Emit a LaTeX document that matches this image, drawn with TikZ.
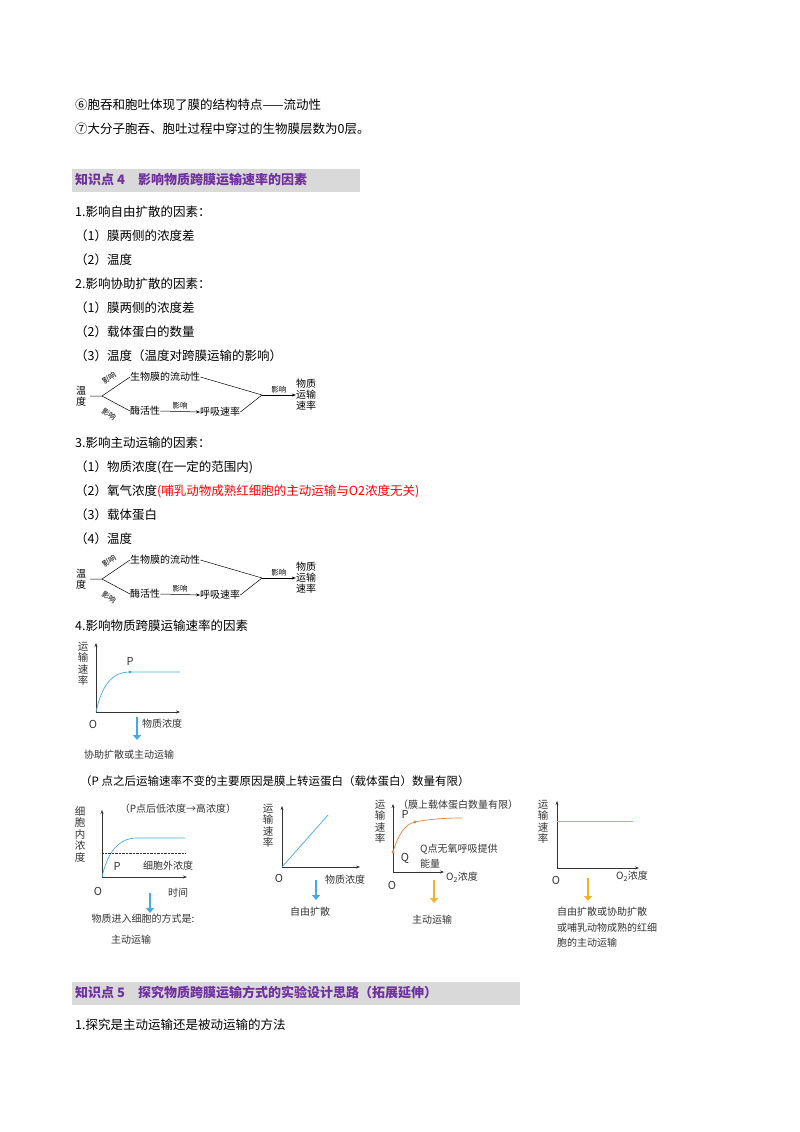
\documentclass[tikz,border=0pt]{standalone}
\usepackage{fontspec}
\setmainfont{Noto Sans CJK SC}
\usetikzlibrary{arrows.meta}
\definecolor{purp}{RGB}{112,48,160}
\definecolor{band}{RGB}{217,217,217}
\definecolor{cblue}{RGB}{70,170,225}
\definecolor{corange}{RGB}{235,130,60}
\definecolor{cyell}{RGB}{240,180,40}
\definecolor{lorange}{RGB}{225,160,110}
\tikzset{
 body/.style={anchor=west,font=\fontsize{12.5pt}{13pt}\selectfont,inner sep=0},
 sm/.style={font=\fontsize{10pt}{11pt}\selectfont,inner sep=0},
 tiny/.style={font=\fontsize{7.5pt}{8pt}\selectfont,inner sep=0},
 gl/.style={font=\fontsize{10pt}{11pt}\selectfont,inner sep=0,text=black!80},
 it/.style={gl,font=\fontsize{11pt}{11pt}\selectfont},
 head/.style={anchor=west,font=\fontsize{13pt}{14pt}\selectfont\bfseries,text=purp,inner sep=0},
 ax/.style={black!80,line width=0.5pt,-{Stealth[length=4pt,width=3pt]}},
 bigarr/.style={line width=2.2pt,-{Triangle[length=5pt,width=8pt]}},
 vtxt/.style={gl,align=center,font=\fontsize{10.5pt}{11.5pt}\selectfont}
}
\begin{document}
\begin{tikzpicture}[x=1pt,y=-1pt]
\useasboundingbox (0,0) rectangle (800,1132);
\node[body] (l6) at (75,105) {⑥胞吞和胞吐体现了膜的结构特点——流动性};
\node[body] (l7) at (75,129) {⑦大分子胞吞、胞吐过程中穿过的生物膜层数为0层。};
\fill[band] (72,169) rectangle (360,192);
\node[head] (h4) at (75,180) {知识点 4\quad 影响物质跨膜运输速率的因素};
\node[body] (a1) at (75,212) {1.影响自由扩散的因素：};
\node[body] (a2) at (75,236) {（1）膜两侧的浓度差};
\node[body] (a3) at (75,260) {（2）温度};
\node[body] (b1) at (75,284) {2.影响协助扩散的因素：};
\node[body] (b2) at (75,308) {（1）膜两侧的浓度差};
\node[body] (b3) at (75,332) {（2）载体蛋白的数量};
\node[body] (b4) at (75,356) {（3）温度（温度对跨膜运输的影响）};
\foreach \dy/\n in {0/p,183/q}{
 \begin{scope}[yshift=-\dy]
 \node[sm,align=center] (\n t) at (81,396) {温\\度};
 \coordinate (\n s) at (90,396);
 \coordinate (\n b) at (102,396);
 \node[sm,anchor=west] (\n f) at (130,377) {生物膜的流动性};
 \node[sm,anchor=west] (\n e) at (130,411) {酶活性};
 \node[sm,anchor=west] (\n r) at (200,412) {呼吸速率};
 \node[sm,align=center] (\n m) at (306,395) {物质\\运输\\速率};
 \coordinate (\n j) at (262,395);
 \draw[line width=0.5pt] (\n s)--(\n b)--(\n f.west) (\n b)--(\n e.west);
 \draw[line width=0.5pt,-{Stealth[length=4pt,width=3pt]}] (\n e.east)--node[tiny,above=2pt]{影响}(\n r.west);
 \draw[line width=0.5pt] (\n f.east)--(\n j) (\n r.east)--(\n j);
 \draw[line width=0.5pt,-{Stealth[length=4pt,width=3pt]}] (\n j)--node[tiny,above=2pt]{影响}(\n m.west);
 \node[tiny,rotate=35] at (109,378) {影响};
 \node[tiny,rotate=-35] at (109,414) {影响};
 \end{scope}}
\node[body] (c1) at (75,443) {3.影响主动运输的因素：};
\node[body] (c2) at (75,467) {（1）物质浓度(在一定的范围内)};
\node[body] (c3) at (75,491) {（2）氧气浓度\textcolor{red}{(哺乳动物成熟红细胞的主动运输与O2浓度无关)}};
\node[body] (c4) at (75,515) {（3）载体蛋白};
\node[body] (c5) at (75,539) {（4）温度};
\node[body] (d1) at (75,626) {4.影响物质跨膜运输速率的因素};
% graph 1
\coordinate (g1o) at (96,712);
\draw[ax] (g1o)--(96,643);
\draw[ax] (g1o)--(180,712);
\draw[cblue,line width=0.7pt] (g1o) .. controls (102,685) and (112,672) .. (130,672) -- (180,672);
\fill[cblue] (130,672) circle (1.6);
\node[vtxt] (g1y) at (83,664) {运\\输\\速\\率};
\node[it] (g1p) at (130,661) {\textit{P}};
\node[it] (g1O) at (93,724) {\textit{O}};
\node[gl] (g1x) at (162,724) {物质浓度};
\draw[bigarr,cblue] (137,717)--(137,740);
\node[gl,anchor=west] (g1t) at (84,755) {协助扩散或主动运输};
\node[body,font=\fontsize{11.5pt}{12pt}\selectfont] (pn) at (80,781) {（P 点之后运输速率不变的主要原因是膜上转运蛋白（载体蛋白）数量有限）};
% bottom graph 1
\coordinate (h1o) at (102,877);
\draw[ax] (h1o)--(102,810);
\draw[ax] (h1o)--(187,877);
\draw[cblue,line width=0.7pt] (h1o) .. controls (108,850) and (120,838) .. (137,838) -- (185,838);
\draw[densely dotted,black!80] (102,853)--(185,853);
\node[vtxt] (h1y) at (80,834) {细\\胞\\内\\浓\\度};
\node[gl] (h1n) at (178,809) {（\textit{P}点后低浓度→高浓度）};
\node[it] (h1p) at (117,866) {\textit{P}};
\node[gl] (h1e) at (168,866) {细胞外浓度};
\node[it] (h1O) at (98,891) {\textit{O}};
\node[gl] (h1x) at (178,893) {时间};
\draw[bigarr,cblue] (150,893)--(150,913);
\node[gl] (h1t) at (143,919) {物质进入细胞的方式是:};
\node[gl] (h1u) at (131,940) {主动运输};
% bottom graph 2
\coordinate (h2o) at (282,867);
\draw[ax] (h2o)--(282,806);
\draw[ax] (h2o)--(360,867);
\draw[cblue,line width=0.7pt] (h2o)--(328,815);
\node[vtxt] (h2y) at (268,826) {运\\输\\速\\率};
\node[it] (h2O) at (279,878) {\textit{O}};
\node[gl] (h2x) at (345,880) {物质浓度};
\draw[bigarr,cblue] (316,880)--(316,900);
\node[gl] (h2t) at (310,912) {自由扩散};
% bottom graph 3
\coordinate (h3o) at (393,872);
\draw[ax] (h3o)--(393,804);
\draw[ax] (h3o)--(444,872);
\draw[corange,line width=0.7pt] (393,852) .. controls (398,835) and (405,824) .. (415,822) .. controls (430,819) and (445,818) .. (462,818);
\fill[corange] (393,852) circle (1.6) (415,822) circle (1.6);
\node[vtxt] (h3y) at (380,822) {运\\输\\速\\率};
\node[gl] (h3n) at (458,805) {（膜上载体蛋白数量有限）};
\node[it] (h3p) at (405,814) {\textit{P}};
\node[it] (h3q) at (405,858) {\textit{Q}};
\node[gl,anchor=west] (h3a) at (420,849) {\textit{Q}点无氧呼吸提供};
\node[gl,anchor=west] (h3b) at (420,864) {能量};
\node[it] (h3O) at (392,885) {\textit{O}};
\node[gl] (h3x) at (462,877) {O\textsubscript{2}浓度};
\draw[bigarr,cyell] (434,880)--(434,903);
\node[gl] (h3t) at (432,920) {主动运输};
% bottom graph 4
\coordinate (h4o) at (557,868);
\draw[ax] (h4o)--(557,801);
\draw[ax] (h4o)--(639,868);
\draw[lorange,line width=0.7pt] (557,821)--(633,821);
\node[vtxt] (h4y) at (543,822) {运\\输\\速\\率};
\node[it] (h4O) at (556,880) {\textit{O}};
\node[gl] (h4x) at (632,876) {O\textsubscript{2}浓度};
\draw[bigarr,cyell] (588,878)--(588,901);
\node[gl,anchor=west] (h4t1) at (557,912) {自由扩散或协助扩散};
\node[gl,anchor=west] (h4t2) at (557,928) {或哺乳动物成熟的红细};
\node[gl,anchor=west] (h4t3) at (557,943) {胞的主动运输};
% heading 5
\fill[band] (72,982) rectangle (520,1005);
\node[head] (h5) at (75,993) {知识点 5\quad 探究物质跨膜运输方式的实验设计思路（拓展延伸）};
\node[body] (e1) at (75,1025) {1.探究是主动运输还是被动运输的方法};
\end{tikzpicture}
\end{document}
